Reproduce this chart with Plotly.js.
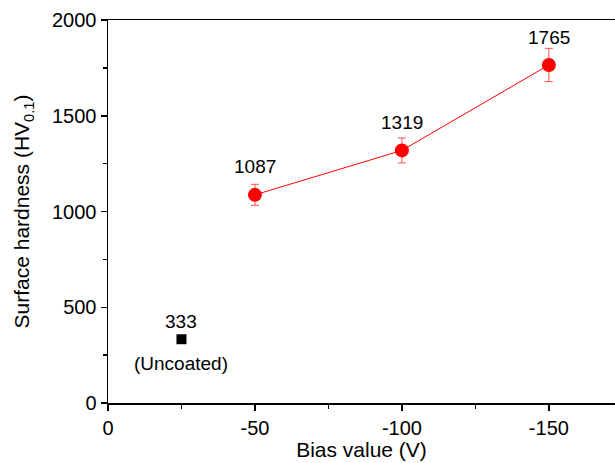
<!DOCTYPE html>
<html>
<head>
<meta charset="utf-8">
<script src="https://cdn.plot.ly/plotly-3.0.1.min.js"></script>
<style>html,body{margin:0;padding:0;background:#fff;}#chart{width:615px;height:463px;}</style>
</head>
<body>
<div id="chart"></div>
<script>
var biasValues = [-50, -100, -150];
var hardness = [1087, 1319, 1765];
var hardnessErr = [55, 65, 87];
var uncoatedX = [-25];
var uncoatedY = [333];
var uncoatedLabel = "(Uncoated)";
var xTicks = [0, -50, -100, -150];
var yTicks = [0, 500, 1000, 1500, 2000];

var font = "Liberation Sans, Arial, sans-serif";

var traces = [
  {
    x: biasValues, y: hardness, type: 'scatter', mode: 'lines+markers',
    line: {color: '#ff0000', width: 1},
    marker: {color: '#ff0000', size: 14, symbol: 'circle'},
    error_y: {type: 'data', array: hardnessErr, visible: true, color: '#ff4d4d', thickness: 1, width: 4},
    cliponaxis: false, showlegend: false
  },
  {
    x: uncoatedX, y: uncoatedY, type: 'scatter', mode: 'markers',
    marker: {color: '#000000', size: 10, symbol: 'square'},
    cliponaxis: false, showlegend: false
  }
];

var annotations = [];
for (var i = 0; i < biasValues.length; i++) {
  annotations.push({x: biasValues[i], y: hardness[i], text: String(hardness[i]), showarrow: false,
    yshift: 28, font: {family: font, size: 19, color: '#000'}});
}
annotations.push({x: uncoatedX[0], y: uncoatedY[0], text: String(uncoatedY[0]), showarrow: false,
  yshift: 18, font: {family: font, size: 19, color: '#000'}});
annotations.push({x: uncoatedX[0], y: uncoatedY[0], text: uncoatedLabel, showarrow: false,
  yshift: -24, font: {family: font, size: 19, color: '#000'}});

var axCommon = {
  showgrid: false, zeroline: false, showline: true, linecolor: '#000', linewidth: 1.5,
  ticks: 'outside', ticklen: 6, tickwidth: 1.5, tickcolor: '#000',
  tickfont: {family: font, size: 20, color: '#000'}
};

var layout = {
  width: 615, height: 463,
  margin: {l: 108, r: 0, t: 20, b: 60},
  paper_bgcolor: '#fff', plot_bgcolor: '#fff',
  font: {family: font, color: '#000'},
  xaxis: Object.assign({}, axCommon, {
    range: [0, -172.5], tickvals: xTicks, ticktext: xTicks.map(String),
    minor: {ticks: 'outside', ticklen: 4, tickwidth: 1.5, tickcolor: '#000', dtick: 25, tick0: 0},
    mirror: true,
    title: {text: 'Bias value (V)', font: {family: font, size: 21, color: '#000'}, standoff: 4}
  }),
  yaxis: Object.assign({}, axCommon, {
    range: [0, 2000], tickvals: yTicks, ticktext: yTicks.map(String),
    minor: {ticks: 'outside', ticklen: 4, tickwidth: 1.5, tickcolor: '#000', dtick: 250, tick0: 0},
    title: {text: 'Surface hardness (HV<sub>0.1</sub>)', font: {family: font, size: 21, color: '#000'}, standoff: 16}
  }),
  annotations: annotations
};

Plotly.newPlot('chart', traces, layout, {displayModeBar: false, staticPlot: true});
</script>
</body>
</html>
